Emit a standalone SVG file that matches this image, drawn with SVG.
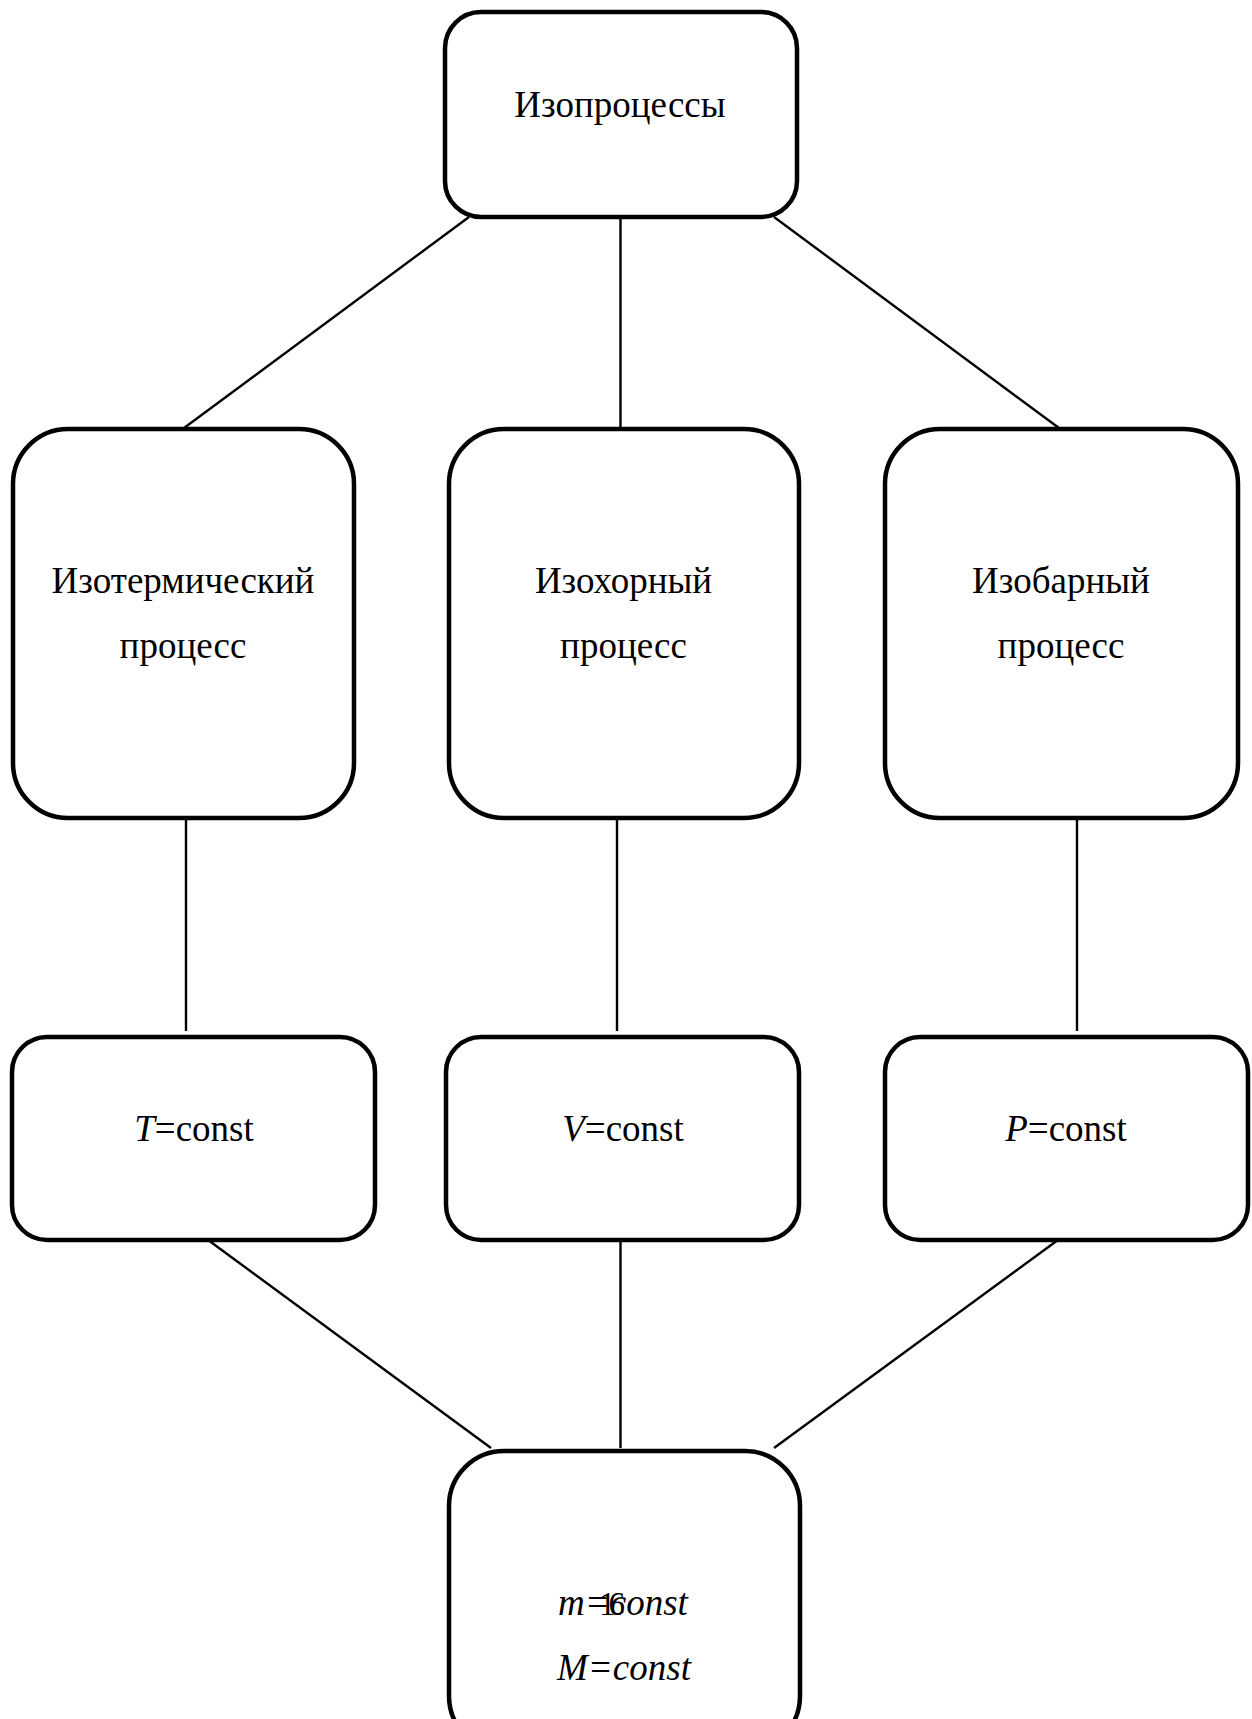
<svg xmlns="http://www.w3.org/2000/svg" width="1252" height="1719" viewBox="0 0 1252 1719">
<style>
.box{fill:#fff;stroke:#000;stroke-width:4.5}
.con line{stroke:#000;stroke-width:2.4}
text{font-family:"Liberation Serif","Times New Roman",serif;font-size:37px;fill:#000;text-anchor:middle}
.i{font-style:italic}
</style>
<rect width="1252" height="1719" fill="#fff"/>
<g id="connectors" class="con">
<line x1="469" y1="217" x2="184" y2="428"/>
<line x1="620.5" y1="217" x2="620.5" y2="428"/>
<line x1="774" y1="217" x2="1059" y2="428"/>
<line x1="186" y1="818" x2="186" y2="1031"/>
<line x1="617" y1="818" x2="617" y2="1031"/>
<line x1="1077" y1="818" x2="1077" y2="1031"/>
<line x1="204" y1="1237" x2="491" y2="1448"/>
<line x1="620.5" y1="1237" x2="620.5" y2="1448"/>
<line x1="1062" y1="1237" x2="774" y2="1448"/>
</g>
<g id="n-izoprocessy">
<rect class="box" x="445" y="12" width="352" height="205" rx="36"/>
<text x="620" y="117">Изопроцессы</text>
</g>
<g id="n-izoterm">
<rect class="box" x="13" y="429" width="341" height="389" rx="55"/>
<text x="183" y="593">Изотермический</text>
<text x="183" y="658">процесс</text>
</g>
<g id="n-izohor">
<rect class="box" x="449" y="429" width="350" height="389" rx="55"/>
<text x="623.5" y="593">Изохорный</text>
<text x="623.5" y="658">процесс</text>
</g>
<g id="n-izobar">
<rect class="box" x="885" y="429" width="353" height="389" rx="55"/>
<text x="1061" y="593">Изобарный</text>
<text x="1061" y="658">процесс</text>
</g>
<g id="n-T">
<rect class="box" x="12" y="1037" width="363" height="203" rx="35"/>
<text x="194" y="1141"><tspan class="i">T</tspan>=const</text>
</g>
<g id="n-V">
<rect class="box" x="446" y="1037" width="353" height="203" rx="35"/>
<text x="623" y="1141"><tspan class="i">V</tspan>=const</text>
</g>
<g id="n-P">
<rect class="box" x="885" y="1037" width="363" height="203" rx="35"/>
<text x="1066" y="1141"><tspan class="i">P</tspan>=const</text>
</g>
<g id="n-mass">
<rect class="box" x="449" y="1451" width="351" height="300" rx="55"/>
<text class="i" x="623" y="1615">m=const</text>
<text x="599" y="1615" style="text-anchor:start;letter-spacing:-7px;font-size:33px">16</text>
<text class="i" x="624" y="1680">M=const</text>
</g>
</svg>
